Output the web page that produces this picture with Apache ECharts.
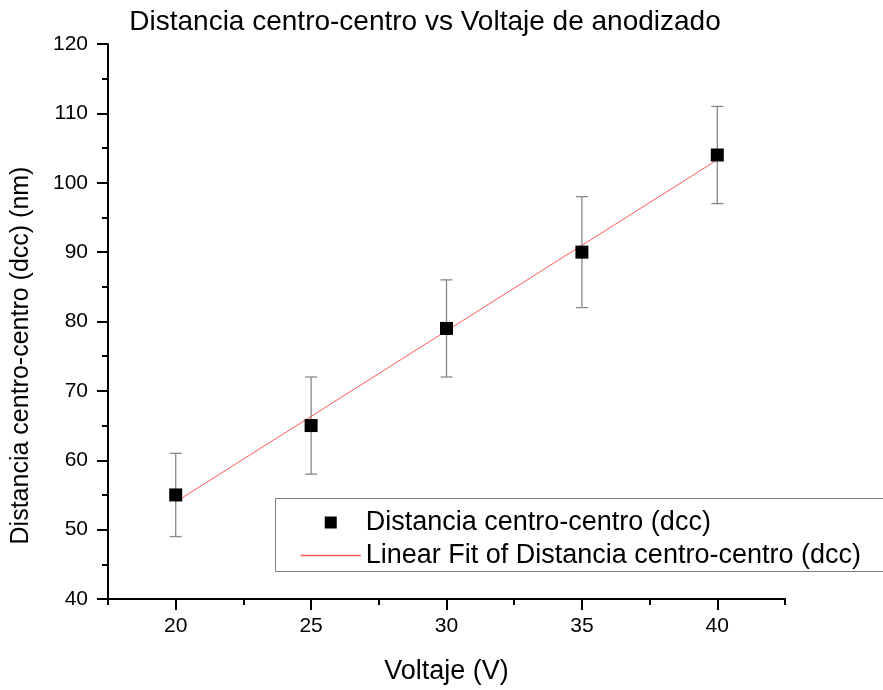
<!DOCTYPE html>
<html><head><meta charset="utf-8">
<script src="https://cdn.jsdelivr.net/npm/echarts@6/dist/echarts.min.js"></script>
<style>html,body{margin:0;padding:0;background:#fff}#c{width:883px;height:690px}</style>
</head><body><div id="c"></div>
<script>
const voltage = [20, 25, 30, 35, 40];
const dcc = [55, 65, 79, 90, 104];
const dccErr = [6, 7, 7, 8, 7];
const fitX = [20, 40];
const fitY = [54.0, 103.3];
const xMajorTicks = [20, 25, 30, 35, 40];
const xMinorTicks = [17.5, 22.5, 27.5, 32.5, 37.5, 42.5];
const title = 'Distancia centro-centro vs Voltaje de anodizado';
const xName = 'Voltaje (V)';
const yName = 'Distancia centro-centro (dcc) (nm)';
const seriesName = 'Distancia centro-centro (dcc)';
const fitName = 'Linear Fit of Distancia centro-centro (dcc)';

const font = 'Liberation Sans, Arial, sans-serif';
const chart = echarts.init(document.getElementById('c'));
const pts = voltage.map((v, i) => [v, dcc[i]]);
const errData = voltage.map((v, i) => [v, dcc[i] - dccErr[i], dcc[i] + dccErr[i]]);
const fitData = fitX.map((v, i) => [v, fitY[i]]);
const fitColor = '#ff5a5a';

chart.setOption({
  animation: false,
  backgroundColor: '#fff',
  textStyle: { fontFamily: font },
  title: {
    text: title, left: 420, top: 3, textAlign: 'center',
    textStyle: { fontFamily: font, fontSize: 28, fontWeight: 'normal', color: '#000' }
  },
  grid: { left: 108, right: 98, top: 44, bottom: 91 },
  xAxis: [{
    type: 'value', min: 17.5, max: 42.5,
    name: xName, nameLocation: 'middle', nameGap: 59,
    nameTextStyle: { fontFamily: font, fontSize: 27, color: '#000' },
    axisLine: { onZero: false, lineStyle: { color: '#000', width: 2 } },
    axisTick: { show: true, inside: false, length: 11, customValues: xMajorTicks, lineStyle: { color: '#000', width: 2 } },
    axisLabel: { customValues: xMajorTicks, margin: 17, fontSize: 21, color: '#000', fontFamily: font },
    splitLine: { show: false }
  }, {
    type: 'value', min: 17.5, max: 42.5, position: 'bottom',
    axisLine: { show: false },
    axisTick: { show: true, inside: false, length: 6, customValues: xMinorTicks, lineStyle: { color: '#000', width: 2 } },
    axisLabel: { show: false },
    splitLine: { show: false }
  }],
  yAxis: {
    type: 'value', min: 40, max: 120, interval: 10,
    name: yName, nameLocation: 'middle', nameGap: 74, nameRotate: 90,
    nameTextStyle: { fontFamily: font, fontSize: 25, color: '#000', padding: [0, 68, 0, 0] },
    axisLine: { show: true, onZero: false, lineStyle: { color: '#000', width: 2 } },
    axisTick: { show: true, inside: false, length: 11, lineStyle: { color: '#000', width: 2 } },
    minorTick: { show: true, splitNumber: 2, length: 6, lineStyle: { color: '#000', width: 2 } },
    axisLabel: { margin: 20, fontSize: 21, color: '#000', fontFamily: font },
    splitLine: { show: false }
  },
  legend: {
    left: 295, top: 504, orient: 'vertical',
    itemWidth: 60, itemHeight: 12, itemGap: 6, itemTextGap: 10,
    textStyle: { fontFamily: font, fontSize: 27, color: '#000', lineHeight: 27 },
    lineStyle: { color: fitColor, width: 1.5 },
    data: [
      { name: seriesName, icon: 'path://M0,0L1,0L1,1L0,1Z', itemStyle: { color: '#000', opacity: 1 } },
      { name: fitName, itemStyle: { opacity: 0 }, lineStyle: { color: fitColor, width: 1.5, opacity: 1 } }
    ]
  },
  graphic: [{
    type: 'rect', left: 275, top: 498, z: -1,
    shape: { width: 700, height: 73 },
    style: { fill: '#fff', stroke: '#808080', lineWidth: 1 }
  }],
  series: [
    {
      type: 'custom', name: 'err', z: 2,
      renderItem: function (params, api) {
        const x = api.coord([api.value(0), api.value(1)])[0];
        const lo = api.coord([api.value(0), api.value(1)])[1];
        const hi = api.coord([api.value(0), api.value(2)])[1];
        const hw = 6;
        const st = { stroke: '#888', lineWidth: 1.3, fill: null };
        return { type: 'group', children: [
          { type: 'line', shape: { x1: x, y1: lo, x2: x, y2: hi }, style: st },
          { type: 'line', shape: { x1: x - hw, y1: lo, x2: x + hw, y2: lo }, style: st },
          { type: 'line', shape: { x1: x - hw, y1: hi, x2: x + hw, y2: hi }, style: st }
        ]};
      },
      data: errData
    },
    {
      type: 'line', name: fitName, data: fitData, showSymbol: false, symbol: 'none', z: 3,
      lineStyle: { color: fitColor, width: 1 }, itemStyle: { color: fitColor }
    },
    {
      type: 'scatter', name: seriesName, data: pts, symbol: 'rect', symbolSize: 13, z: 4,
      itemStyle: { color: '#000', opacity: 1 }
    }
  ]
});
</script></body></html>
